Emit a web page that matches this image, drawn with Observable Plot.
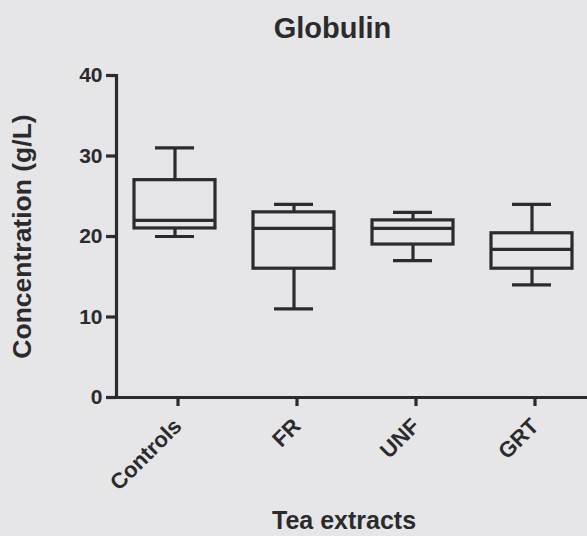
<!DOCTYPE html>
<html>
<head>
<meta charset="utf-8">
<script src="https://cdn.jsdelivr.net/npm/d3@7"></script>
<script src="https://cdn.jsdelivr.net/npm/@observablehq/plot@0.6"></script>
<style>
  html, body { margin: 0; padding: 0; background: #e6e6e8; }
  #chart svg { display: block; }
</style>
</head>
<body>
<div id="chart"></div>
<script>
const categories = ["Controls", "FR", "UNF", "GRT"];
const minValues    = [20, 11, 17, 14];
const q1Values     = [21, 16, 19, 16];
const medianValues = [22, 21, 21, 18.4];
const q3Values     = [27, 23, 22, 20.4];
const maxValues    = [31, 24, 23, 24];
const yTicks = [0, 10, 20, 30, 40];

const data = categories.map((c, i) => ({
  cat: c, min: minValues[i], q1: q1Values[i], median: medianValues[i], q3: q3Values[i], max: maxValues[i]
}));

const ink = "#2b2b2d";
const sw = 3.2;
const font = "'Liberation Sans', Arial, Helvetica, sans-serif";

const chart = Plot.plot({
  width: 587,
  height: 536,
  marginLeft: 116,
  marginRight: 0,
  marginTop: 75,
  marginBottom: 139,
  style: { background: "#e6e6e8", fontFamily: font, color: ink },
  x: { domain: categories, range: [114, 592], paddingInner: 0.32, paddingOuter: 0.16 },
  y: { domain: [0, 40] },
  marks: [
    Plot.frame({ anchor: "left", stroke: ink, strokeWidth: sw }),
    Plot.frame({ anchor: "bottom", stroke: ink, strokeWidth: sw }),
    Plot.axisY({ ticks: yTicks, tickSize: 10, tickPadding: 4, fontSize: 21, fontWeight: "bold", strokeWidth: sw, stroke: ink, fill: ink, label: null }),
    Plot.axisX({ tickRotate: -45, tickSize: 9, tickPadding: 16, dx: 3, fontSize: 22, fontWeight: "bold", strokeWidth: sw, stroke: ink, fill: ink, label: null }),
    Plot.ruleX(data, { x: "cat", y1: "q3", y2: "max", stroke: ink, strokeWidth: sw }),
    Plot.ruleX(data, { x: "cat", y1: "min", y2: "q1", stroke: ink, strokeWidth: sw }),
    Plot.tickY(data, { x: "cat", y: "max", stroke: ink, strokeWidth: sw, insetLeft: 21, insetRight: 21 }),
    Plot.tickY(data, { x: "cat", y: "min", stroke: ink, strokeWidth: sw, insetLeft: 21, insetRight: 21 }),
    Plot.barY(data, { x: "cat", y1: "q1", y2: "q3", fill: "none", stroke: ink, strokeWidth: sw }),
    Plot.tickY(data, { x: "cat", y: "median", stroke: ink, strokeWidth: sw }),
    Plot.text(["Globulin"], { frameAnchor: "top", lineAnchor: "bottom", dx: -19.5, dy: -38, fontSize: 29, fontWeight: "bold", fill: ink }),
    Plot.text(["Tea extracts"], { frameAnchor: "bottom", lineAnchor: "bottom", dx: -8, dy: 131, fontSize: 25, fontWeight: "bold", fill: ink }),
    Plot.text(["Concentration (g/L)"], { frameAnchor: "left", textAnchor: "middle", lineAnchor: "bottom", rotate: -90, dx: -86, dy: 0, fontSize: 26.5, fontWeight: "bold", fill: ink })
  ]
});
document.getElementById("chart").appendChild(chart);
</script>
</body>
</html>
